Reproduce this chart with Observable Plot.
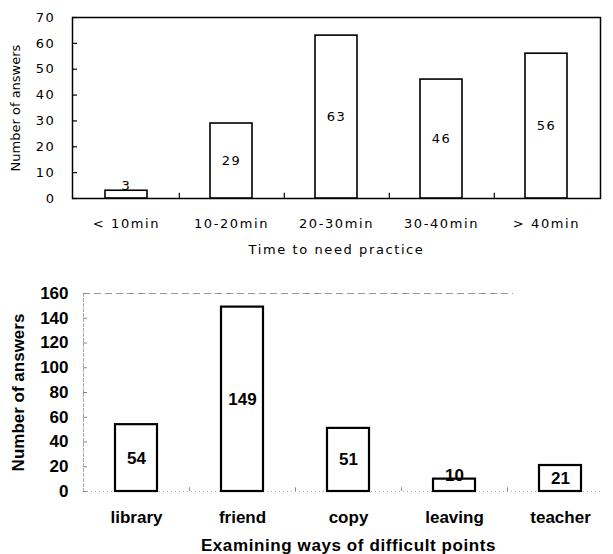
<!DOCTYPE html>
<html>
<head>
<meta charset="utf-8">
<script src="https://cdn.jsdelivr.net/npm/d3@7"></script>
<script src="https://cdn.jsdelivr.net/npm/@observablehq/plot@0.6"></script>
<style>
  html, body { margin: 0; padding: 0; background: #fff; }
  #chart { width: 613px; }
  #chart svg { display: block; }
</style>
</head>
<body>
<div id="chart"></div>
<script>
// ---- Data: top chart ----
const practiceTimes = ["< 10min", "10-20min", "20-30min", "30-40min", "> 40min"];
const practiceCounts = [3, 29, 63, 46, 56];
const topTicks = [0, 10, 20, 30, 40, 50, 60, 70];
const topXLabel = "Time to need practice";
const topYLabel = "Number of answers";

// ---- Data: bottom chart ----
const ways = ["library", "friend", "copy", "leaving", "teacher"];
const wayCounts = [54, 149, 51, 10, 21];
const bottomTicks = [0, 20, 40, 60, 80, 100, 120, 140, 160];
const bottomXLabel = "Examining ways of difficult points";
const bottomYLabel = "Number of answers";

const topData = practiceTimes.map((c, i) => ({cat: c, value: practiceCounts[i]}));
const botData = ways.map((c, i) => ({cat: c, value: wayCounts[i]}));

const W = 613;

// ---------- Top chart ----------
{
  const mL = 72, mR = 13, mT = 17, mB = 67, H = 265;
  const step = (W - mL - mR) / practiceTimes.length;
  const yMax = 70;
  const small = d => d.value < yMax * 0.08;
  const chart = Plot.plot({
    width: W, height: H,
    marginLeft: mL, marginRight: mR, marginTop: mT, marginBottom: mB,
    style: {fontFamily: "DejaVu Sans, sans-serif", fontSize: "13px", letterSpacing: "1.6px", color: "#000", background: "#fff"},
    x: {domain: practiceTimes, paddingInner: 0.6, paddingOuter: 0.3, align: 0.5},
    y: {domain: [0, yMax]},
    marks: [
      Plot.frame({stroke: "#000", strokeWidth: 1.5}),
      Plot.axisX({tickSize: 0, tickPadding: 20, label: null}),
      Plot.axisY({ticks: topTicks, tickSize: 0, tickPadding: 17, label: null}),
      Plot.text([topXLabel], {frameAnchor: "bottom", dy: 55, text: d => d, fill: "#000"}),
      Plot.text([topYLabel], {frameAnchor: "left", textAnchor: "middle", rotate: -90, dx: -57,
        text: d => d, fill: "#000", fontSize: 13}),
      Plot.ruleY(topTicks, {stroke: "#000", strokeWidth: 1.2, insetRight: W - mL - mR - 5}),
      Plot.ruleX(practiceTimes.slice(0, -1), {y1: 0, y2: 2, dx: step / 2, stroke: "#000", strokeWidth: 1.2}),
      Plot.barY(topData, {x: "cat", y: "value", fill: "#fff", stroke: "#000", strokeWidth: 1.6}),
      Plot.text(topData.filter(d => !small(d)), {x: "cat", y: d => d.value / 2, text: d => String(d.value),
        fontSize: 13, fill: "#000"}),
      Plot.text(topData.filter(small), {x: "cat", y: "value", text: d => String(d.value), dy: -5,
        fontSize: 13, fill: "#000"})
    ]
  });
  // the vertical axis title should not be letter-spaced
  chart.querySelectorAll("text").forEach(t => { if (t.textContent === topYLabel) t.style.letterSpacing = "0px"; });
  document.getElementById("chart").append(chart);
}

// ---------- Bottom chart ----------
{
  const mL = 83, mR = 0, mT = 28, mB = 63, H = 289;
  const step = (W - mL - mR) / ways.length;
  const yMax = 160;
  const small = d => d.value < yMax * 0.08;
  const chart = Plot.plot({
    width: W, height: H,
    marginLeft: mL, marginRight: mR, marginTop: mT, marginBottom: mB,
    style: {fontFamily: "Liberation Sans, Arial, sans-serif", fontSize: "17px", color: "#000", background: "#fff"},
    x: {domain: ways, paddingInner: 0.6, paddingOuter: 0.3, align: 0.5},
    y: {domain: [0, yMax]},
    marks: [
      Plot.ruleY([yMax], {stroke: "#999", strokeWidth: 1, strokeDasharray: "7,4", insetRight: 100}),
      Plot.ruleY([0], {stroke: "#aaa", strokeWidth: 1, strokeDasharray: "1,3", insetRight: 10}),
      Plot.ruleX([ways[0]], {dx: -step / 2, stroke: "#aaa", strokeWidth: 1, strokeDasharray: "4,1"}),
      Plot.axisX({tickSize: 0, tickPadding: 19, label: null, fontWeight: "bold"}),
      Plot.axisY({ticks: bottomTicks, tickSize: 0, tickPadding: 15, label: null, fontWeight: "bold"}),
      Plot.text([bottomXLabel], {frameAnchor: "bottom", dy: 59, text: d => d, fill: "#000", fontWeight: "bold"}),
      Plot.text([bottomYLabel], {frameAnchor: "left", textAnchor: "middle", rotate: -90, dx: -65,
        text: d => d, fill: "#000", fontWeight: "bold"}),
      Plot.ruleY(bottomTicks, {stroke: "#888", strokeWidth: 1, insetRight: W - mL - mR - 4}),
      Plot.ruleX(ways.slice(0, -1), {y1: 0, y2: 3, dx: step / 2, stroke: "#888", strokeWidth: 1}),
      Plot.barY(botData, {x: "cat", y: "value", fill: "#fff", stroke: "#000", strokeWidth: 2.2}),
      Plot.text(botData.filter(d => !small(d)), {x: "cat", y: d => d.value / 2, text: d => String(d.value),
        fontSize: 17, fontWeight: "bold", fill: "#000"}),
      Plot.text(botData.filter(small), {x: "cat", y: "value", text: d => String(d.value), dy: -4,
        fontSize: 17, fontWeight: "bold", fill: "#000"})
    ]
  });
  chart.querySelectorAll("text").forEach(t => { if (t.textContent === bottomXLabel) t.style.letterSpacing = "0.6px"; });
  document.getElementById("chart").append(chart);
}
</script>
</body>
</html>
